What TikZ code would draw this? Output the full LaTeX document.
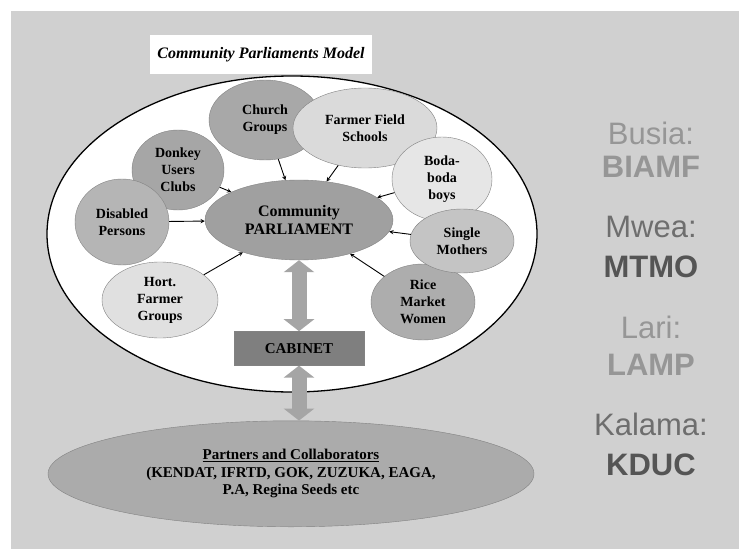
\documentclass[tikz,border=0pt]{standalone}
\usepackage{fontspec}
\setmainfont{Liberation Serif}
\newfontfamily\sidefont{Liberation Sans}
\usepackage{tikz}
\usetikzlibrary{shapes,arrows,arrows.meta,positioning}
\definecolor{bggray}{RGB}{208,208,208}
\definecolor{edgegray}{RGB}{130,130,130}
\definecolor{churchgray}{RGB}{168,168,168}
\definecolor{fieldgray}{RGB}{218,218,218}
\definecolor{bodagray}{RGB}{230,230,230}
\definecolor{mothersgray}{RGB}{196,196,196}
\definecolor{ricegray}{RGB}{173,173,173}
\definecolor{donkeygray}{RGB}{166,166,166}
\definecolor{disabledgray}{RGB}{181,181,181}
\definecolor{hortgray}{RGB}{224,224,224}
\definecolor{parlgray}{RGB}{160,160,160}
\definecolor{cabgray}{RGB}{127,127,127}
\definecolor{partgray}{RGB}{171,171,171}
\definecolor{arrowgray}{RGB}{165,165,165}
\definecolor{sitelight}{RGB}{150,150,150}
\definecolor{sitemid}{RGB}{110,110,110}
\definecolor{sitedark}{RGB}{85,85,85}

\begin{document}
\begin{tikzpicture}[x=1pt, y=-1pt, >=stealth, thick]
  \tikzstyle{group} = [ellipse, draw=edgegray, thin, inner sep=0pt, align=center, font=\fontsize{14}{17}\selectfont\bfseries]
  \tikzstyle{link} = [->, black, line width=0.9pt]
  \tikzstyle{fatarrow} = [draw=arrowgray, line width=15pt, {Triangle[width=30pt,length=12pt]}-{Triangle[width=30pt,length=12pt]}]
  \tikzstyle{site} = [anchor=base, font=\sidefont\fontsize{31}{36}\selectfont]

  % background
  \fill[white] (0,0) rectangle (739,559);
  \fill[bggray] (11,11) rectangle (739,549);
  \useasboundingbox (0,0) rectangle (739,559);

  % community
  \node[ellipse, draw=black, fill=white, line width=1.3pt, minimum width=490pt, minimum height=316pt, inner sep=0pt] (comm) at (292,234) {};
  \node[fill=white, minimum width=222pt, minimum height=39pt, font=\fontsize{16}{19}\selectfont\bfseries\itshape] (title) at (261,55) {Community Parliaments Model};

  % groups
  \node[group, fill=ricegray, minimum width=104pt, minimum height=76pt] (rice) at (423,302) {Rice\\Market\\Women};
  \node[group, fill=churchgray, minimum width=112pt, minimum height=80pt] (church) at (265,120) {Church\\Groups};
  \node[group, fill=donkeygray, minimum width=92pt, minimum height=80pt] (donkey) at (178,170) {Donkey\\Users\\Clubs};
  \node[group, fill=disabledgray, minimum width=94pt, minimum height=86pt] (disabled) at (122,222) {Disabled\\Persons};
  \node[group, fill=hortgray, minimum width=116pt, minimum height=76pt] (hort) at (160,300) {Hort.\\Farmer\\Groups};
  \node[group, fill=fieldgray, minimum width=144pt, minimum height=80pt] (field) at (365,128) {Farmer Field\\Schools};
  \node[group, fill=bodagray, minimum width=100pt, minimum height=84pt] (boda) at (442,179) {Boda-\\boda\\boys};
  \node[group, fill=mothersgray, minimum width=104pt, minimum height=64pt] (mothers) at (462,241) {Single\\Mothers};

  % parliament
  \node[group, fill=parlgray, minimum width=188pt, minimum height=80pt, font=\fontsize{16}{18}\selectfont\bfseries] (parl) at (299,220) {Community\\PARLIAMENT};

  % links to parliament
  \draw[link] (church) -- (parl);
  \draw[link] (field) -- (parl);
  \draw[link] (boda) -- (parl);
  \draw[link] (mothers) -- (parl);
  \draw[link] (rice) -- (parl);
  \draw[link] (hort) -- (parl);
  \draw[link] (disabled) -- (parl);
  \draw[link] (donkey) -- (parl);

  % cabinet
  \node[rectangle, draw=edgegray, thin, fill=cabgray, minimum width=130pt, minimum height=34pt, font=\fontsize{15}{18}\selectfont\bfseries] (cab) [below=71pt of parl] {CABINET};
  \draw[fatarrow] (parl.south) -- (cab.north);

  % partners
  \node[group, fill=partgray, minimum width=486pt, minimum height=106pt, font=\fontsize{15}{17.5}\selectfont\bfseries] (partners) [below=55pt of cab, xshift=-8pt] {\underline{Partners and Collaborators}\\(KENDAT, IFRTD, GOK, ZUZUKA, EAGA,\\P.A, Regina Seeds etc};
  \draw[fatarrow] (cab.south) -- (cab.south |- partners.north);

  % sites
  \node[site, text=sitelight] (busia) at (651,145) {Busia:};
  \node[site, text=sitelight] (biamf) at (651,178) {\bfseries BIAMF};
  \node[site, text=sitemid] (mwea) at (651,237) {Mwea:};
  \node[site, text=sitedark] (mtmo) at (651,277) {\bfseries MTMO};
  \node[site, text=sitelight] (lari) at (651,338) {Lari:};
  \node[site, text=sitelight] (lamp) at (651,375) {\bfseries LAMP};
  \node[site, text=sitemid] (kalama) at (651,435) {Kalama:};
  \node[site, text=sitedark] (kduc) at (651,475) {\bfseries KDUC};
\end{tikzpicture}
\end{document}
